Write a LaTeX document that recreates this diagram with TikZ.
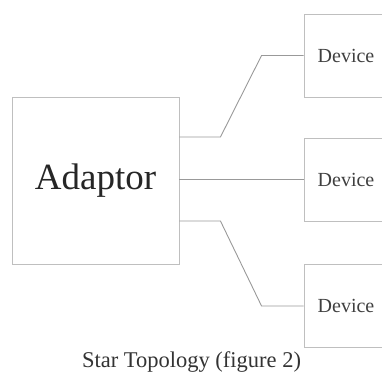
\documentclass[tikz,border=0pt]{standalone}
\usepackage{fontspec}
\setmainfont{Liberation Serif}
\begin{document}
\begin{tikzpicture}[
    x=1pt, y=-1pt,
    hub/.style={rectangle, draw=gray!50, line width=0.9pt, minimum width=167pt, minimum height=167pt, inner sep=0pt, text=black!85, font=\fontsize{37}{40}\selectfont},
    device/.style={rectangle, draw=gray!50, line width=0.9pt, minimum width=84pt, minimum height=83pt, inner sep=0pt, text=black!75, font=\fontsize{20}{22}\selectfont},
    link/.style={draw=gray!80, line width=0.9pt},
]
\clip (0,0) rectangle (382,376);
\node[hub] (adaptor) at (95.5,180.5) {Adaptor};
\node[device] (dev1) at (346,55.5) {Device};
\node[device] (dev2) at (346,179.5) {Device};
\node[device] (dev3) at (346,306) {Device};
\draw[link] ([yshift=43.5pt]adaptor.east) -- ++(41,0) -- ([xshift=-42pt]dev1.west) -- (dev1.west);
\draw[link] (adaptor.east |- dev2.west) -- (dev2.west);
\draw[link] ([yshift=-40.5pt]adaptor.east) -- ++(41,0) -- ([xshift=-42pt]dev3.west) -- (dev3.west);
\node (caption) at (191.5,367) [anchor=base, text=black!80, font=\fontsize{22.5}{24}\selectfont] {Star Topology (figure 2)};
\end{tikzpicture}
\end{document}
